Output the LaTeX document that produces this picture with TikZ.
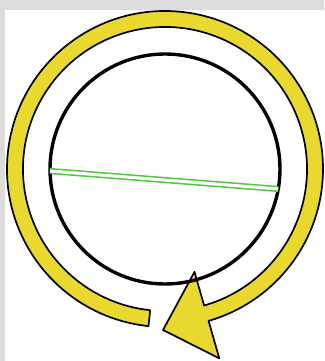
\documentclass[tikz,border=0pt]{standalone}
\usepackage{tikz}
\usetikzlibrary{calc}
\definecolor{ringyellow}{RGB}{233,216,45}
\definecolor{chordgreen}{RGB}{80,200,60}
\definecolor{framegray}{RGB}{220,220,220}

\begin{document}
\begin{tikzpicture}[x=1cm, y=1cm,
    band/.style={draw=black, line width=1.2pt, fill=ringyellow, line join=round},
    wheel/.style={circle, draw=black, line width=2.4pt, minimum size=5.75cm, inner sep=0pt, outer sep=0pt},
    chord/.style={draw=chordgreen, line width=1.1pt, double=white, double distance=2.2pt}]
    % frame
    \fill[framegray] (0,0) rectangle (8.1,9.025);
    \fill[white] (0.125,0) rectangle (8.1,8.775);
    \useasboundingbox (0,0) rectangle (8.1,9.025);
    \coordinate (c) at (4.125,4.8);
    % turning arrow
    \draw[band, shift={(c)}] (264:3.95) arc[start angle=264, end angle=-74, radius=3.95]
        -- (286:4.925) -- (269.3:4.025) -- (286:2.675) -- (286:3.55)
        arc[start angle=-74, end angle=264, radius=3.55] -- cycle;
    % wheel and its chord
    \node[wheel] (w) at (c) {};
    \draw[chord] (w.181) -- (w.-10);
\end{tikzpicture}
\end{document}
